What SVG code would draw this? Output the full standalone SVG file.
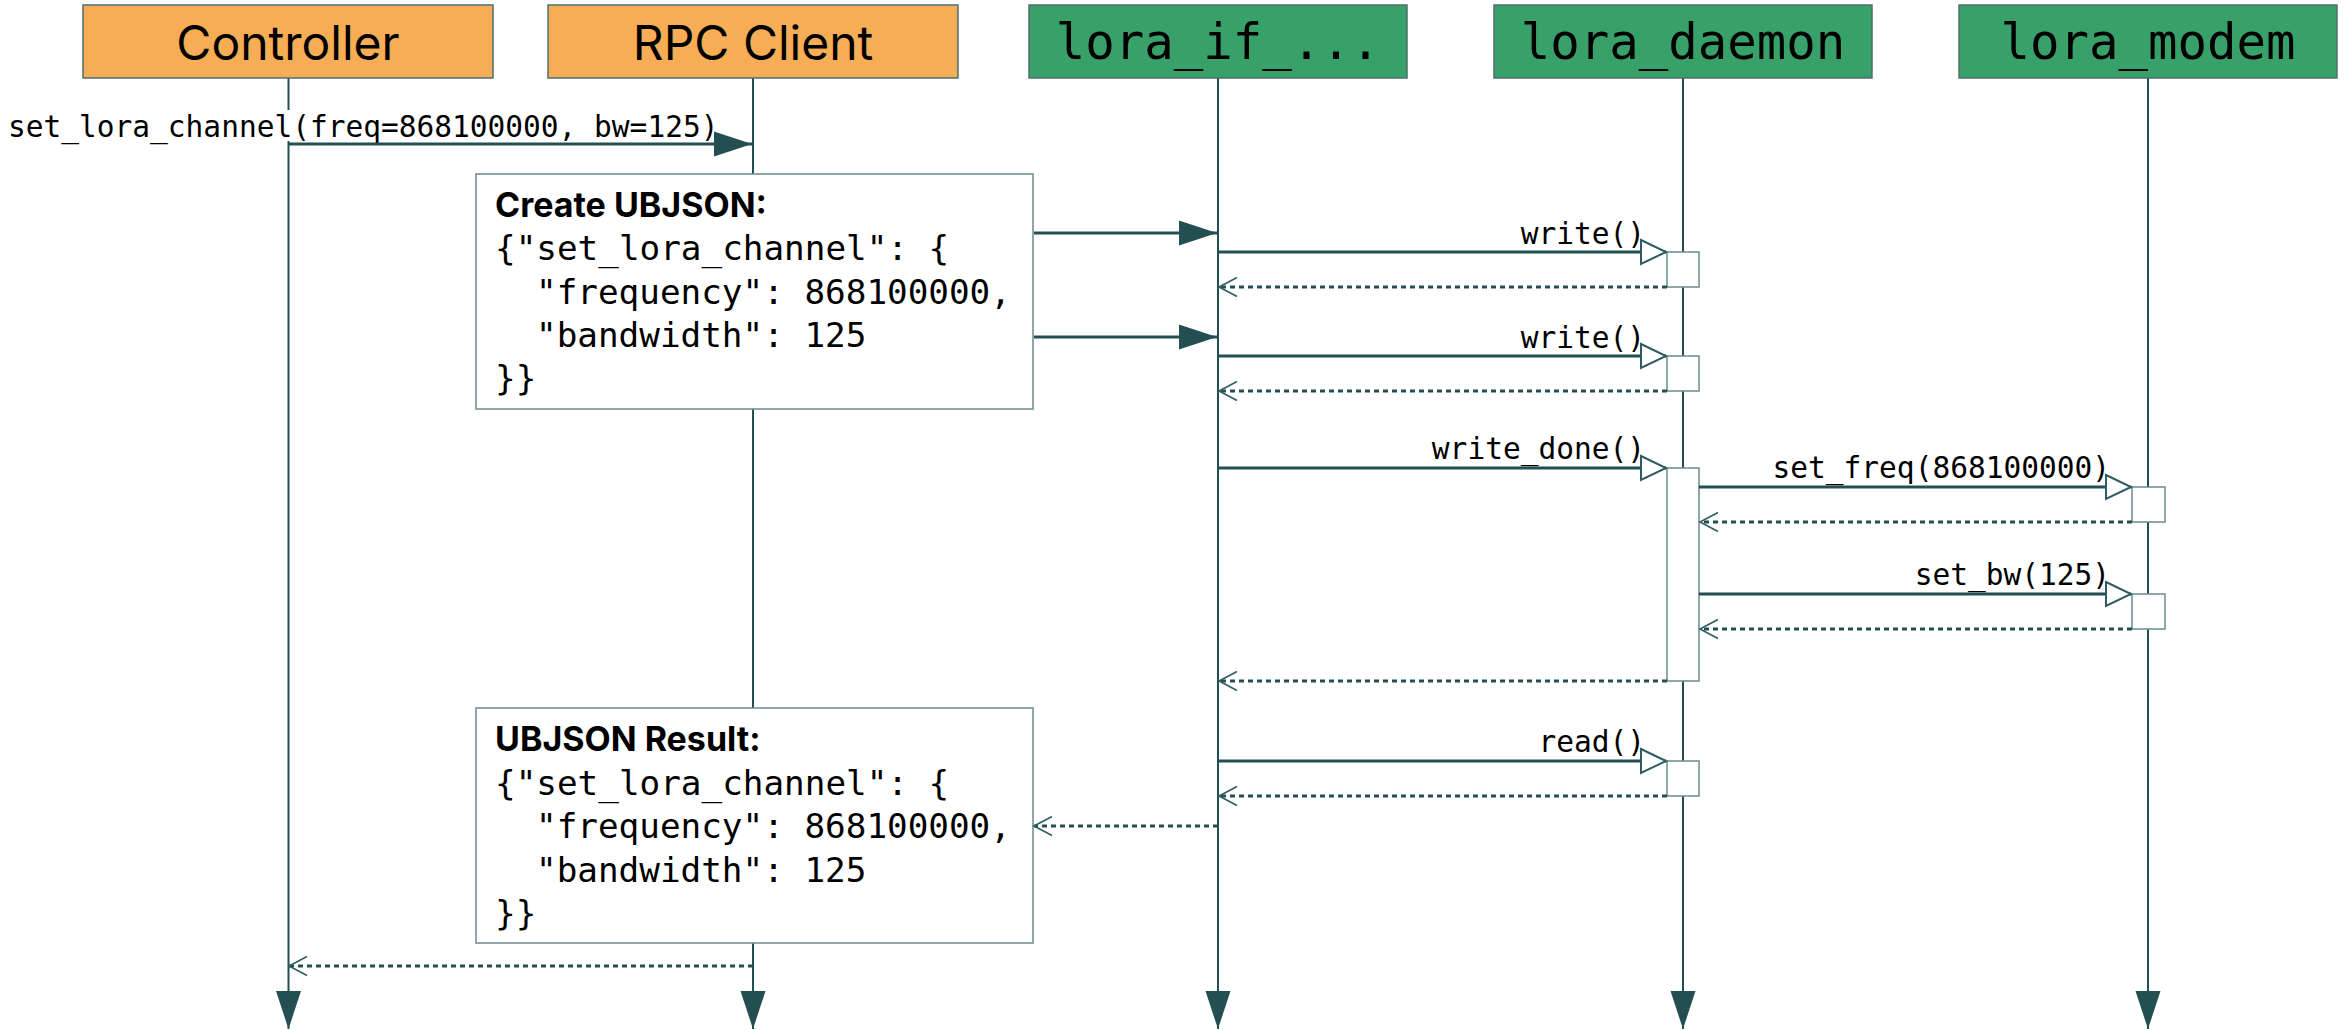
<svg xmlns="http://www.w3.org/2000/svg" width="2345" height="1030" viewBox="0 0 2345 1030">
  <style>
    .actor-o { fill: #F6AD55; stroke: #4f6f6f; stroke-width: 1.5; }
    .actor-g { fill: #38A169; stroke: #4f6f6f; stroke-width: 1.5; }
    .actor-sans { font-family: Inter, "Liberation Sans", sans-serif; font-size: 48px; fill: #000; text-anchor: middle; }
    .actor-mono { font-family: "DejaVu Sans Mono", "Liberation Mono", monospace; font-size: 49px; fill: #000; text-anchor: middle; }
    .lifeline { stroke: #234E52; stroke-width: 2; fill: none; }
    .msg { stroke: #234E52; stroke-width: 3; fill: none; }
    .ret { stroke: #234E52; stroke-width: 3; fill: none; stroke-dasharray: 5 4; }
    .label { font-family: "DejaVu Sans Mono", "Liberation Mono", monospace; font-size: 29.5px; fill: #000; }
    .note { fill: #fff; stroke: #6b8a8a; stroke-width: 1.5; }
    .note-title { font-family: Inter, "Liberation Sans", sans-serif; font-weight: bold; font-size: 34px; fill: #000; }
    .note-code { font-family: "DejaVu Sans Mono", "Liberation Mono", monospace; font-size: 34.3px; fill: #000; }
    .act { fill: #fff; stroke: #6b8a8a; stroke-width: 1.5; }
  </style>
  <defs>
    <marker id="solid" markerUnits="userSpaceOnUse" markerWidth="40" markerHeight="26" refX="38" refY="12.5" orient="auto" overflow="visible">
      <path d="M0,0 L38,12.5 L0,25 Z" fill="#234E52" stroke="none"/>
    </marker>
    <marker id="open" markerUnits="userSpaceOnUse" markerWidth="28" markerHeight="28" refX="25" refY="12" orient="auto" overflow="visible">
      <path d="M0,0 L25,12 L0,24 Z" fill="#fff" stroke="#2f5c60" stroke-width="2" stroke-dasharray="none"/>
    </marker>
    <marker id="vee" markerUnits="userSpaceOnUse" markerWidth="20" markerHeight="20" refX="18" refY="9.5" orient="auto" overflow="visible">
      <path d="M0,0 L18,9.5 L0,19" fill="none" stroke="#2f5c60" stroke-width="1.6" stroke-dasharray="none"/>
    </marker>
  </defs>

  <rect width="2345" height="1030" fill="#fff"/>

  <!-- lifelines -->
  <g id="lifelines">
    <line class="lifeline" x1="288.5" y1="78" x2="288.5" y2="1029" marker-end="url(#solid)"/>
    <line class="lifeline" x1="753" y1="78" x2="753" y2="1029" marker-end="url(#solid)"/>
    <line class="lifeline" x1="1218" y1="78" x2="1218" y2="1029" marker-end="url(#solid)"/>
    <line class="lifeline" x1="1683" y1="78" x2="1683" y2="1029" marker-end="url(#solid)"/>
    <line class="lifeline" x1="2148" y1="78" x2="2148" y2="1029" marker-end="url(#solid)"/>
  </g>

  <!-- participants -->
  <g id="controller">
    <rect class="actor-o" x="83" y="5" width="410" height="73"/>
    <text class="actor-sans" x="288" y="60">Controller</text>
  </g>
  <g id="rpc-client">
    <rect class="actor-o" x="548" y="5" width="410" height="73"/>
    <text class="actor-sans" x="753" y="60">RPC Client</text>
  </g>
  <g id="lora-if">
    <rect class="actor-g" x="1029" y="5" width="378" height="73"/>
    <text class="actor-mono" x="1218" y="59">lora_if_...</text>
  </g>
  <g id="lora-daemon">
    <rect class="actor-g" x="1494" y="5" width="378" height="73"/>
    <text class="actor-mono" x="1683" y="59">lora_daemon</text>
  </g>
  <g id="lora-modem">
    <rect class="actor-g" x="1959" y="5" width="378" height="73"/>
    <text class="actor-mono" x="2148" y="59">lora_modem</text>
  </g>

  <!-- notes on RPC Client -->
  <g id="note-create">
    <rect class="note" x="476" y="174" width="557" height="235"/>
    <text class="note-title" x="495" y="217">Create UBJSON:</text>
    <text class="note-code" x="495" y="260">{"set_lora_channel": {</text>
    <text class="note-code" x="536" y="303.5">"frequency": 868100000,</text>
    <text class="note-code" x="536" y="347">"bandwidth": 125</text>
    <text class="note-code" x="495" y="390">}}</text>
  </g>
  <g id="note-result">
    <rect class="note" x="476" y="708" width="557" height="235"/>
    <text class="note-title" x="495" y="751">UBJSON Result:</text>
    <text class="note-code" x="495" y="794.5">{"set_lora_channel": {</text>
    <text class="note-code" x="536" y="838">"frequency": 868100000,</text>
    <text class="note-code" x="536" y="881.5">"bandwidth": 125</text>
    <text class="note-code" x="495" y="925">}}</text>
  </g>

  <!-- activation bars -->
  <g id="activations">
    <rect class="act" x="1667" y="252" width="32" height="35"/>
    <rect class="act" x="1667" y="356" width="32" height="35"/>
    <rect class="act" x="1667" y="468" width="32" height="213"/>
    <rect class="act" x="2132" y="487" width="33" height="35"/>
    <rect class="act" x="2132" y="594" width="33" height="35"/>
    <rect class="act" x="1667" y="761" width="32" height="35"/>
  </g>

  <!-- messages -->
  <g id="connectors">
    <rect x="4" y="110" width="716" height="31" fill="#fff"/>
    <text class="label" x="8" y="137">set_lora_channel(freq=868100000, bw=125)</text>
    <line class="msg" x1="289" y1="144" x2="752" y2="144" marker-end="url(#solid)"/>

    <line class="msg" x1="1034" y1="233" x2="1217" y2="233" marker-end="url(#solid)"/>
    <line class="msg" x1="1034" y1="337" x2="1217" y2="337" marker-end="url(#solid)"/>

    <text class="label" x="1645" y="244" text-anchor="end">write()</text>
    <line class="msg" x1="1218" y1="252" x2="1666" y2="252" marker-end="url(#open)"/>
    <line class="ret" x1="1667" y1="287" x2="1219" y2="287" marker-end="url(#vee)"/>

    <text class="label" x="1645" y="348" text-anchor="end">write()</text>
    <line class="msg" x1="1218" y1="356" x2="1666" y2="356" marker-end="url(#open)"/>
    <line class="ret" x1="1667" y1="391" x2="1219" y2="391" marker-end="url(#vee)"/>

    <text class="label" x="1645" y="459" text-anchor="end">write_done()</text>
    <line class="msg" x1="1218" y1="468" x2="1666" y2="468" marker-end="url(#open)"/>

    <text class="label" x="2110" y="478" text-anchor="end">set_freq(868100000)</text>
    <line class="msg" x1="1699" y1="487" x2="2131" y2="487" marker-end="url(#open)"/>
    <line class="ret" x1="2132" y1="522" x2="1700" y2="522" marker-end="url(#vee)"/>

    <text class="label" x="2110" y="585" text-anchor="end">set_bw(125)</text>
    <line class="msg" x1="1699" y1="594" x2="2131" y2="594" marker-end="url(#open)"/>
    <line class="ret" x1="2132" y1="629" x2="1700" y2="629" marker-end="url(#vee)"/>

    <line class="ret" x1="1667" y1="681" x2="1219" y2="681" marker-end="url(#vee)"/>

    <text class="label" x="1645" y="752" text-anchor="end">read()</text>
    <line class="msg" x1="1218" y1="761" x2="1666" y2="761" marker-end="url(#open)"/>
    <line class="ret" x1="1667" y1="796" x2="1219" y2="796" marker-end="url(#vee)"/>

    <line class="ret" x1="1218" y1="826" x2="1034" y2="826" marker-end="url(#vee)"/>

    <line class="ret" x1="753" y1="966" x2="289" y2="966" marker-end="url(#vee)"/>
  </g>
</svg>
